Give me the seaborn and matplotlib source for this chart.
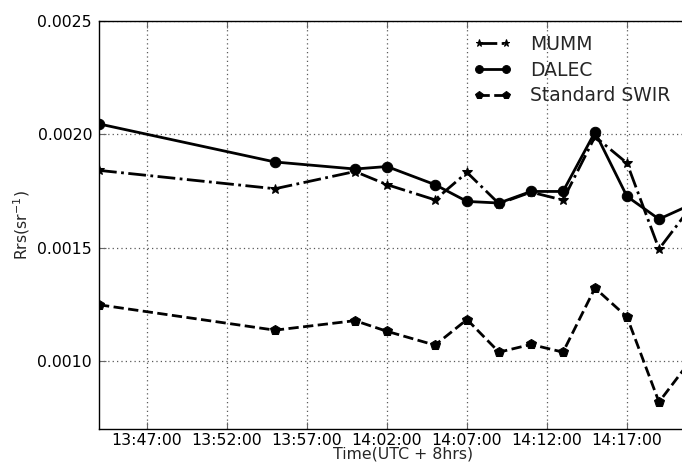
import numpy as np
import pandas as pd
import matplotlib
matplotlib.use("Agg")
import matplotlib.pyplot as plt
import matplotlib.dates as mdates
import seaborn as sns

times = ["13:44:00", "13:55:00", "14:00:00", "14:02:00", "14:05:00", "14:07:00",
         "14:09:00", "14:11:00", "14:13:00", "14:15:00", "14:17:00", "14:19:00", "14:21:00"]
mumm = [0.001841, 0.001760, 0.001836, 0.001778, 0.001711, 0.001832,
        0.001694, 0.001745, 0.001710, 0.001990, 0.001873, 0.001494, 0.001680]
dalec = [0.002046, 0.001878, 0.001847, 0.001858, 0.001778, 0.001704,
         0.001697, 0.001748, 0.001748, 0.002010, 0.001726, 0.001626, 0.001690]
swir = [0.001248, 0.001136, 0.001178, 0.001131, 0.001070, 0.001183,
        0.001039, 0.001073, 0.001039, 0.001322, 0.001194, 0.000819, 0.001005]
xtick_labels = ["13:47:00", "13:52:00", "13:57:00", "14:02:00", "14:07:00", "14:12:00", "14:17:00"]

sns.set_style("white")
plt.rcParams['font.family'] = ['DejaVu Sans']

t = pd.to_datetime(["2015-01-01 " + s for s in times])
df = pd.DataFrame({"t": t, "MUMM": mumm, "DALEC": dalec, "Standard SWIR": swir})

fig = plt.figure(figsize=(6.82, 4.63), dpi=100)
ax = fig.add_axes([99/682, 34/463, 608/682, 408/463])

sns.lineplot(data=df, x="t", y="MUMM", ax=ax, color="k", lw=2, linestyle="-.",
             marker="*", markersize=7, markeredgecolor="k", label="MUMM")
sns.lineplot(data=df, x="t", y="DALEC", ax=ax, color="k", lw=2, linestyle="-",
             marker="o", markersize=7.5, markeredgecolor="k", label="DALEC")
sns.lineplot(data=df, x="t", y="Standard SWIR", ax=ax, color="k", lw=2, linestyle="--",
             marker="p", markersize=7.5, markeredgecolor="k", label="Standard SWIR")

ax.set_xlim(pd.Timestamp("2015-01-01 13:44:00"), pd.Timestamp("2015-01-01 14:22:00"))
ax.set_ylim(0.0007, 0.0025)
ax.set_yticks([0.0010, 0.0015, 0.0020, 0.0025])
ax.set_yticklabels(["0.0010", "0.0015", "0.0020", "0.0025"])
xt = pd.to_datetime(["2015-01-01 " + s for s in xtick_labels])
ax.set_xticks(xt)
ax.set_xticklabels(xtick_labels)

ax.grid(True, color="0.35", linestyle=(0, (1, 2.5)), linewidth=0.9)
for s in ax.spines.values():
    s.set_color("k")
    s.set_linewidth(1.0)
ax.tick_params(direction="in", length=5, width=0.8, colors="0.4", labelsize=11.3,
               labelcolor="k", bottom=True, left=True, top=True, right=True)
ax.tick_params(axis="x", pad=3)
ax.tick_params(axis="y", pad=5)
ax.set_xlabel("Time(UTC + 8hrs)", fontsize=11.3, labelpad=-1)
ax.set_ylabel("Rrs(sr$^{-1}$)", fontsize=11.3, labelpad=4)

leg = ax.legend(loc="upper left", bbox_to_anchor=(0.5885, 1.007), frameon=False,
                fontsize=13.5, numpoints=2, handlelength=2.0, labelspacing=0.35,
                handletextpad=1.0, markerscale=0.75)

fig.savefig("out.png", dpi=100, facecolor="white")
